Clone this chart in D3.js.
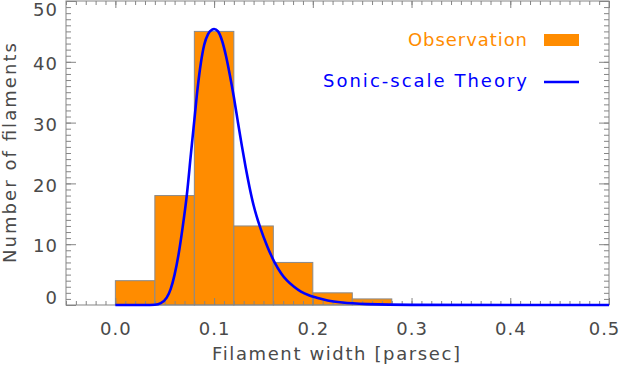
<!DOCTYPE html>
<html>
<head>
<meta charset="utf-8">
<script src="https://cdn.jsdelivr.net/npm/d3@7"></script>
<style>
  body { margin: 0; background: #fff; }
  svg text { font-family: "DejaVu Sans", sans-serif; }
</style>
</head>
<body>
<div id="chart"></div>
<script>
// histogram bins (left edge, right edge) and counts
const binEdges = [0.00, 0.04, 0.08, 0.12, 0.16, 0.20, 0.24, 0.28];
const counts = [4, 18, 45, 13, 7, 2, 1];

// theory curve
const theoryX = [0.000, 0.030, 0.040, 0.046, 0.052, 0.056, 0.060, 0.064, 0.068, 0.0724, 0.0765, 0.080,
                 0.0832, 0.0866, 0.090, 0.094, 0.098, 0.100, 0.104, 0.108, 0.112, 0.116, 0.120,
                 0.124, 0.128, 0.132, 0.136, 0.140, 0.147, 0.154, 0.161, 0.168, 0.174, 0.181,
                 0.188, 0.196, 0.204, 0.215, 0.230, 0.255, 0.300, 0.500];
const theoryY = [0, 0, 0.05, 0.3, 1.2, 2.6, 5.0, 8.3, 12.6, 18.1, 24.8, 30.4,
                 35.5, 39.8, 42.8, 44.6, 45.3, 45.4, 45.0, 43.5, 41.0, 37.8, 34.2,
                 30.2, 26.3, 22.6, 19.3, 16.4, 12.6, 9.6, 7.1, 5.2, 4.0, 3.0,
                 2.2, 1.6, 1.2, 0.75, 0.4, 0.15, 0.02, 0];

const xTicks = [0.0, 0.1, 0.2, 0.3, 0.4, 0.5];
const yTicks = [0, 10, 20, 30, 40, 50];

const margin = {top: 1, right: 14, bottom: 61, left: 66},
    width = 623 - margin.left - margin.right,
    height = 366 - margin.top - margin.bottom;

const axisColor = "#858585", textColor = "#4a4a4a";
const orange = "#ff8c00", blue = "#0000ff";

const x = d3.scaleLinear().domain([-0.05, 0.5]).range([0, width]);
const y = d3.scaleLinear().domain([0, 50]).range([height, 0]);

const svg = d3.select("#chart").append("svg")
    .attr("width", 623)
    .attr("height", 366)
  .append("g")
    .attr("transform", `translate(${margin.left},${margin.top})`);

// bars
const bins = counts.map((c, i) => ({x0: binEdges[i], x1: binEdges[i + 1], n: c}));
svg.selectAll(".bar")
  .data(bins)
  .enter().append("rect")
    .attr("class", "bar")
    .attr("x", d => x(d.x0))
    .attr("width", d => x(d.x1) - x(d.x0))
    .attr("y", d => y(d.n))
    .attr("height", d => height - y(d.n))
    .attr("fill", orange)
    .attr("stroke", "#8a8a8a")
    .attr("stroke-width", 1);

// frame
svg.append("rect")
    .attr("width", width).attr("height", height)
    .attr("fill", "none").attr("stroke", axisColor).attr("stroke-width", 1);

const xMinor = d3.range(-5, 51).map(d => d / 100);
const yMinor = d3.range(0, 51);

function styleAxis(g) {
  g.select(".domain").remove();
  g.selectAll("line").attr("stroke", axisColor);
  g.selectAll("text").attr("fill", textColor).style("font-size", "18px").style("letter-spacing", "1px");
}

// bottom / top x axes
svg.append("g").attr("transform", `translate(0,${height})`)
  .call(d3.axisBottom(x).tickValues(xMinor).tickSize(-4).tickFormat(""))
  .call(styleAxis);
svg.append("g").attr("transform", `translate(0,${height})`)
  .call(d3.axisBottom(x).tickValues(xTicks).tickSize(-7).tickPadding(17).tickFormat(d3.format(".1f")))
  .call(styleAxis)
  .selectAll("text")
    .attr("x", d => d === 0.5 ? -5 : 0);
svg.append("g")
  .call(d3.axisTop(x).tickValues(xMinor).tickSize(-4).tickFormat(""))
  .call(styleAxis);
svg.append("g")
  .call(d3.axisTop(x).tickValues(xTicks).tickSize(-7).tickFormat(""))
  .call(styleAxis);

// left / right y axes
svg.append("g")
  .call(d3.axisLeft(y).tickValues(yMinor).tickSize(-5).tickFormat(""))
  .call(styleAxis);
svg.append("g")
  .call(d3.axisLeft(y).tickValues(yTicks).tickSize(-10).tickPadding(8).tickFormat(d3.format("d")))
  .call(styleAxis)
  .selectAll("text")
    .attr("y", d => d === 0 ? -7 : d === 50 ? 9 : 2);
svg.append("g").attr("transform", `translate(${width},0)`)
  .call(d3.axisRight(y).tickValues(yMinor).tickSize(-5).tickFormat(""))
  .call(styleAxis);
svg.append("g").attr("transform", `translate(${width},0)`)
  .call(d3.axisRight(y).tickValues(yTicks).tickSize(-10).tickFormat(""))
  .call(styleAxis);

// theory curve
const line = d3.line()
    .x((d, i) => x(theoryX[i]))
    .y(d => y(d))
    .curve(d3.curveMonotoneX);
svg.append("path")
    .datum(theoryY)
    .attr("d", line)
    .attr("fill", "none")
    .attr("stroke", blue)
    .attr("stroke-width", 2.6);

// axis titles
svg.append("text")
    .attr("x", 336 - margin.left).attr("y", 360 - margin.top)
    .attr("text-anchor", "middle")
    .attr("textLength", 248).attr("lengthAdjust", "spacing")
    .attr("fill", textColor).style("font-size", "18px")
    .text("Filament width [parsec]");
svg.append("text")
    .attr("transform", `translate(${16 - margin.left},${153 - margin.top}) rotate(-90)`)
    .attr("text-anchor", "middle")
    .attr("textLength", 220).attr("lengthAdjust", "spacing")
    .attr("fill", textColor).style("font-size", "18px")
    .text("Number of filaments");

// legend
const legend = svg.append("g").attr("transform", `translate(${-margin.left},${-margin.top})`);
legend.append("text")
    .attr("x", 408).attr("y", 46)
    .attr("textLength", 119).attr("lengthAdjust", "spacing")
    .attr("fill", orange).style("font-size", "18px")
    .text("Observation");
legend.append("rect")
    .attr("x", 544).attr("y", 34).attr("width", 35).attr("height", 12)
    .attr("fill", orange);
legend.append("text")
    .attr("x", 323).attr("y", 87)
    .attr("textLength", 204).attr("lengthAdjust", "spacing")
    .attr("fill", blue).style("font-size", "18px")
    .text("Sonic-scale Theory");
legend.append("line")
    .attr("x1", 544).attr("x2", 579).attr("y1", 82).attr("y2", 82)
    .attr("stroke", blue).attr("stroke-width", 2.4);
</script>
</body>
</html>
